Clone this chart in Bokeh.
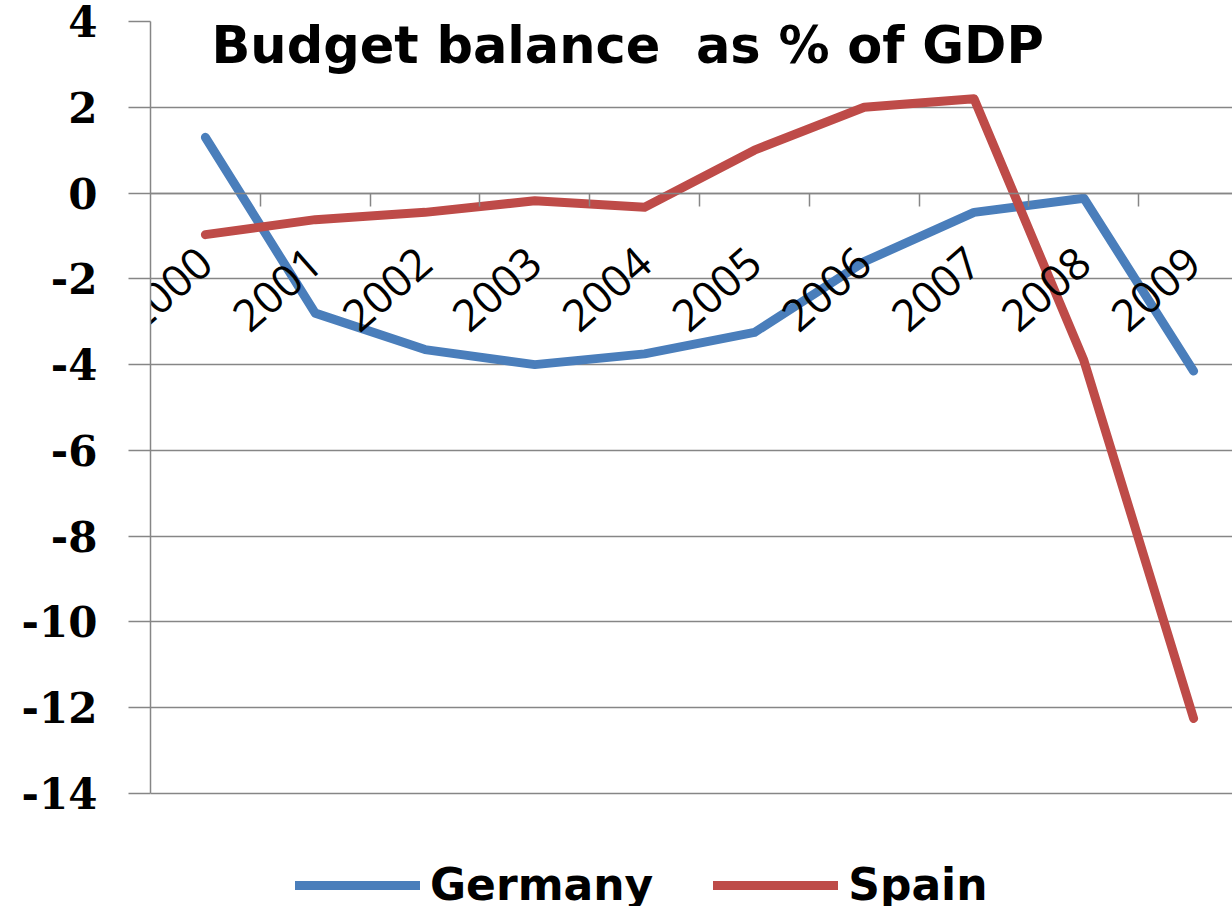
from bokeh.plotting import figure
from bokeh.models import (Range1d, FixedTicker, Legend, LegendItem, Label,
                          ColumnDataSource)
from bokeh.embed import file_html
from bokeh.resources import INLINE

# ---- data ----
years = ["2000", "2001", "2002", "2003", "2004", "2005", "2006", "2007", "2008", "2009"]
germany = [1.3, -2.8, -3.65, -4.0, -3.75, -3.25, -1.6, -0.45, -0.12, -4.15]
spain = [-0.97, -0.62, -0.45, -0.18, -0.33, 1.0, 2.0, 2.2, -3.9, -12.25]
y_ticks = [-14, -12, -10, -8, -6, -4, -2, 0, 2, 4]
title_text = "Budget balance\u00a0 as % of GDP"
series_names = ["Germany", "Spain"]

idx = list(range(len(years)))
src = ColumnDataSource(dict(x=idx, germany=germany, spain=spain))

GREY = "#868686"
BLUE = "#4A7EBB"
RED = "#BE4B48"

# frame runs to the bottom of the page so the legend can sit inside it;
# the value axis itself is bounded to -14..4
Y_MIN_VIEW = -14 - 113 / (772 / 18)

p = figure(width=1232, height=906, output_backend="svg", toolbar_location=None,
           x_range=Range1d(-0.5, 9.354), y_range=Range1d(Y_MIN_VIEW, 4),
           min_border_left=150, min_border_right=0, min_border_top=21,
           min_border_bottom=0)
p.outline_line_color = None
p.background_fill_color = "white"
p.border_fill_color = "white"

# x axis: crosses at y=0, labels at category centres, tick marks at boundaries
xa = p.xaxis[0]
xa.fixed_location = 0
xa.ticker = FixedTicker(ticks=idx, minor_ticks=[i + 0.5 for i in range(len(years) - 1)])
xa.major_label_overrides = {i: y for i, y in zip(idx, years)}
xa.major_label_orientation = 0.72
xa.major_tick_out = 0
xa.major_tick_in = 0
xa.minor_tick_out = 13
xa.minor_tick_in = 0
xa.minor_tick_line_color = GREY
xa.minor_tick_line_width = 1.5
xa.axis_line_color = GREY
xa.axis_line_width = 1.5
xa.major_label_text_font = "Open Sans"
xa.major_label_text_font_size = "44px"
xa.major_label_text_color = "black"
xa.major_label_standoff = 50

# y axis
ya = p.yaxis[0]
ya.ticker = FixedTicker(ticks=y_ticks)
ya.bounds = (min(y_ticks), max(y_ticks))
ya.major_label_overrides = {t: str(t) for t in y_ticks}
ya.major_tick_out = 22
ya.major_tick_in = 0
ya.major_tick_line_color = GREY
ya.major_tick_line_width = 1.5
ya.minor_tick_line_color = None
ya.axis_line_color = GREY
ya.axis_line_width = 1.5
ya.major_label_text_font = "DejaVu Serif"
ya.major_label_text_font_style = "bold"
ya.major_label_text_font_size = "42px"
ya.major_label_text_color = "black"
ya.major_label_standoff = 31

p.xgrid.visible = False
p.ygrid.ticker = FixedTicker(ticks=y_ticks)
p.ygrid.grid_line_color = GREY
p.ygrid.grid_line_width = 1.5

r_g = p.line("x", "germany", source=src, line_color=BLUE, line_width=9,
             line_cap="round", line_join="round")
r_s = p.line("x", "spain", source=src, line_color=RED, line_width=9,
             line_cap="round", line_join="round")

title = Label(x=61, y=max(y_ticks), x_units="screen", y_units="data",
              y_offset=6, text=title_text,
              text_font="DejaVu Sans", text_font_style="bold",
              text_font_size="51px", text_baseline="top", text_align="left",
              text_color="black")
p.add_layout(title)

legend = Legend(items=[LegendItem(label=series_names[0], renderers=[r_g]),
                       LegendItem(label=series_names[1], renderers=[r_s])],
                orientation="horizontal", location=(145, -4),
                glyph_width=125, glyph_height=40, label_standoff=10,
                spacing=60, padding=0, margin=0, border_line_color=None,
                background_fill_alpha=0, label_text_font="DejaVu Sans",
                label_text_font_style="bold", label_text_font_size="44px",
                label_height=40, label_text_color="black")
p.add_layout(legend)

open("out.html", "w").write(file_html(p, INLINE))
